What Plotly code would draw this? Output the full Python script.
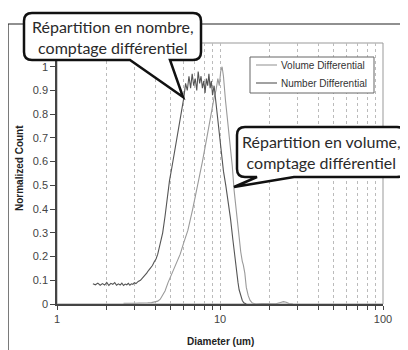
import plotly.graph_objects as go

# ---------------- data ----------------
num_x = [1.66, 1.72, 1.78, 1.84, 1.9, 1.96, 2.02, 2.08, 2.14, 2.2,
         2.26, 2.32, 2.38, 2.44, 2.5, 2.56, 2.62, 2.68, 2.74, 2.8,
         2.86, 2.92, 2.98, 3.05, 3.15, 3.25, 3.35, 3.45, 3.55, 3.65,
         3.75, 3.85, 3.95, 4.05, 4.15, 4.3, 4.45, 4.6, 4.75, 4.9,
         5.05, 5.2, 5.4, 5.6, 5.8, 6.0, 6.15, 6.3, 6.45, 6.6,
         6.75, 6.9, 7.05, 7.2, 7.35, 7.5, 7.65, 7.8, 7.95, 8.1,
         8.25, 8.4, 8.55, 8.7, 8.85, 9.0, 9.2, 9.4, 9.6, 9.85,
         10.15, 10.5, 10.85, 11.2, 11.6, 12.0, 12.3, 12.6, 12.9, 13.1,
         13.4, 13.7, 14.0, 14.5]
num_y = [0.085, 0.081, 0.088, 0.079, 0.086, 0.080, 0.091, 0.078, 0.087, 0.083,
         0.090, 0.079, 0.085, 0.080, 0.088, 0.078, 0.084, 0.081, 0.087, 0.079,
         0.085, 0.083, 0.090, 0.086, 0.095, 0.100, 0.110, 0.118, 0.130, 0.142,
         0.152, 0.162, 0.178, 0.190, 0.210, 0.250, 0.300, 0.370, 0.450, 0.520,
         0.570, 0.620, 0.680, 0.740, 0.800, 0.870, 0.930, 0.900, 0.960, 0.910,
         0.970, 0.920, 0.950, 0.900, 0.980, 0.930, 0.960, 0.910, 0.940, 0.890,
         0.950, 0.920, 0.970, 0.910, 0.940, 0.880, 0.920, 0.860, 0.800, 0.720,
         0.630, 0.560, 0.500, 0.440, 0.360, 0.270, 0.200, 0.140, 0.090, 0.060,
         0.035, 0.015, 0.005, 0.000]

vol_x = [2.56, 2.7, 2.85, 3.0, 3.2, 3.4, 3.6, 3.8, 4.0, 4.15,
         4.3, 4.45, 4.6, 4.8, 5.0, 5.2, 5.45, 5.7, 6.0, 6.35,
         6.8, 7.3, 7.8, 8.3, 8.8, 9.2, 9.45, 9.7, 9.9, 10.1,
         10.3, 10.5, 10.8, 11.1, 11.5, 11.9, 12.2, 12.6, 13.0, 13.4,
         13.7, 13.9, 14.2, 14.5, 14.9, 15.3, 15.8, 16.6, 18.0, 20.0,
         22.0, 23.5, 24.5, 25.5, 26.5, 28.0]
vol_y = [0.003, 0.002, 0.004, 0.003, 0.004, 0.003, 0.005, 0.006, 0.008, 0.012,
         0.020, 0.035, 0.055, 0.090, 0.120, 0.150, 0.180, 0.210, 0.260, 0.310,
         0.400, 0.500, 0.600, 0.700, 0.800, 0.870, 0.900, 0.950, 0.920, 0.980,
         1.000, 0.960, 0.860, 0.780, 0.690, 0.580, 0.480, 0.380, 0.300, 0.220,
         0.180, 0.165, 0.130, 0.070, 0.035, 0.015, 0.004, 0.000, 0.002, 0.000,
         0.001, 0.006, 0.010, 0.007, 0.002, 0.000]

series_names = ["Volume Differential", "Number Differential"]
series_colors = ["#9a9a9a", "#555555"]
y_ticks = [0, 0.1, 0.2, 0.3, 0.4, 0.5, 0.6, 0.7, 0.8, 0.9, 1]
x_ticks = [1, 10, 100]
callout_texts = ["Répartition en nombre,<br>comptage différentiel",
                 "Répartition en volume,<br>comptage différentiel"]

# ---------------- layout helpers (page pixel -> paper) ----------------
W, H = 408, 350
OFF = 8                      # page body margin
PL, PT, PW, PH = 57, 43, 326, 261   # plot area in page pixels
L = PL - OFF
T = PT - OFF
R = W - L - PW
B = H - T - PH


def px(xp):
    return (xp - PL) / PW


def py(yp):
    return (PT + PH - yp) / PH


def callout_path(x0, y0, x1, y1, r, pl, pr, tip):
    def P(a, b):
        return f"{px(a):.5f},{py(b):.5f}"
    s = f"M {P(x0 + r, y0)} L {P(x1 - r, y0)} Q {P(x1, y0)} {P(x1, y0 + r)} "
    s += f"L {P(x1, y1 - r)} Q {P(x1, y1)} {P(x1 - r, y1)} "
    s += f"L {P(pr, y1)} L {P(tip[0], tip[1])} L {P(pl, y1)} "
    s += f"L {P(x0 + r, y1)} Q {P(x0, y1)} {P(x0, y1 - r)} "
    s += f"L {P(x0, y0 + r)} Q {P(x0, y0)} {P(x0 + r, y0)} Z"
    return s


fig = go.Figure()
fig.add_trace(go.Scatter(x=vol_x, y=vol_y, mode="lines", name=series_names[0],
                         line=dict(color=series_colors[0], width=1.1), showlegend=False))
fig.add_trace(go.Scatter(x=num_x, y=num_y, mode="lines", name=series_names[1],
                         line=dict(color=series_colors[1], width=1.1), showlegend=False))

shapes = [
    # outer chart frame
    dict(type="rect", xref="paper", yref="paper", x0=px(8), y0=py(24), x1=px(430), y1=py(370),
         line=dict(color="#222", width=1.2), fillcolor="rgba(0,0,0,0)", layer="below"),
    # plot area border
    dict(type="rect", xref="paper", yref="paper", x0=0, y0=0, x1=1, y1=1,
         line=dict(color="#999", width=1), fillcolor="rgba(0,0,0,0)", layer="below"),
    # legend box
    dict(type="rect", xref="paper", yref="paper", x0=px(250), y0=py(57), x1=px(374), y1=py(93),
         line=dict(color="#666", width=1), fillcolor="white", layer="above"),
    # callouts
    dict(type="path", xref="paper", yref="paper",
         path=callout_path(24, 13, 201, 60, 8, 130, 170, (183, 97)),
         fillcolor="white", line=dict(color="#111", width=2.5), layer="above"),
    dict(type="path", xref="paper", yref="paper",
         path=callout_path(237, 127, 405, 177, 8, 257, 294, (234, 187)),
         fillcolor="white", line=dict(color="#111", width=2.5), layer="above"),
]

annotations = [
    dict(text=callout_texts[0], xref="paper", yref="paper", x=px(112.5), y=py(36.5),
         showarrow=False, xanchor="center", yanchor="middle", align="center",
         font=dict(family="Lato", size=16, color="#2a2a2a")),
    dict(text=callout_texts[1], xref="paper", yref="paper", x=px(321), y=py(152),
         showarrow=False, xanchor="center", yanchor="middle", align="center",
         font=dict(family="Lato", size=16, color="#2a2a2a")),
    dict(text="<b>Normalized Count</b>", xref="paper", yref="paper", x=px(19), y=py(168),
         showarrow=False, textangle=-90, xanchor="center", yanchor="middle",
         font=dict(family="Liberation Sans", size=10, color="#222")),
    dict(text="<b>Diameter (um)</b>", xref="paper", yref="paper", x=px(220), y=py(341),
         showarrow=False, xanchor="center", yanchor="middle",
         font=dict(family="Liberation Sans", size=10, color="#222")),
]

# manual legend (lines + labels)
for i, (name, col) in enumerate(zip(series_names, series_colors)):
    yy = 65 + 18 * i
    shapes.append(dict(type="line", xref="paper", yref="paper",
                       x0=px(256), x1=px(277), y0=py(yy), y1=py(yy),
                       line=dict(color=col, width=1.1), layer="above"))
    annotations.append(dict(text=name, xref="paper", yref="paper", x=px(279), y=py(yy),
                            showarrow=False, xanchor="left", yanchor="middle",
                            font=dict(family="Liberation Sans", size=10, color="#333")))

fig.update_layout(
    width=W, height=H,
    margin=dict(l=L, r=R, t=T, b=B),
    paper_bgcolor="white", plot_bgcolor="white",
    shapes=shapes, annotations=annotations,
    showlegend=False,
    font=dict(family="Liberation Sans", size=11, color="#333"),
)

fig.update_xaxes(
    type="log", range=[0, 2],
    tickvals=x_ticks, ticktext=[str(v) for v in x_ticks],
    ticks="outside", ticklen=4, tickcolor="#444",
    showline=True, linecolor="#444", linewidth=1.5,
    showgrid=True, gridcolor="#bbbbbb", griddash="dot", gridwidth=1,
    minor=dict(ticks="outside", ticklen=4, tickcolor="#444",
               showgrid=True, gridcolor="#bbbbbb", griddash="dot", gridwidth=1,
               dtick="D1"),
    tickfont=dict(family="Liberation Sans", size=11, color="#444"),
    zeroline=False,
)
fig.update_yaxes(
    range=[0, 1.1], tickvals=y_ticks, ticktext=[f"{v:g}" for v in y_ticks],
    ticks="outside", ticklen=5, tickcolor="#444",
    showline=True, linecolor="#444", linewidth=1.5,
    showgrid=False, zeroline=False,
    tickfont=dict(family="Liberation Sans", size=11, color="#444"),
)

fig.write_html("out.html")
